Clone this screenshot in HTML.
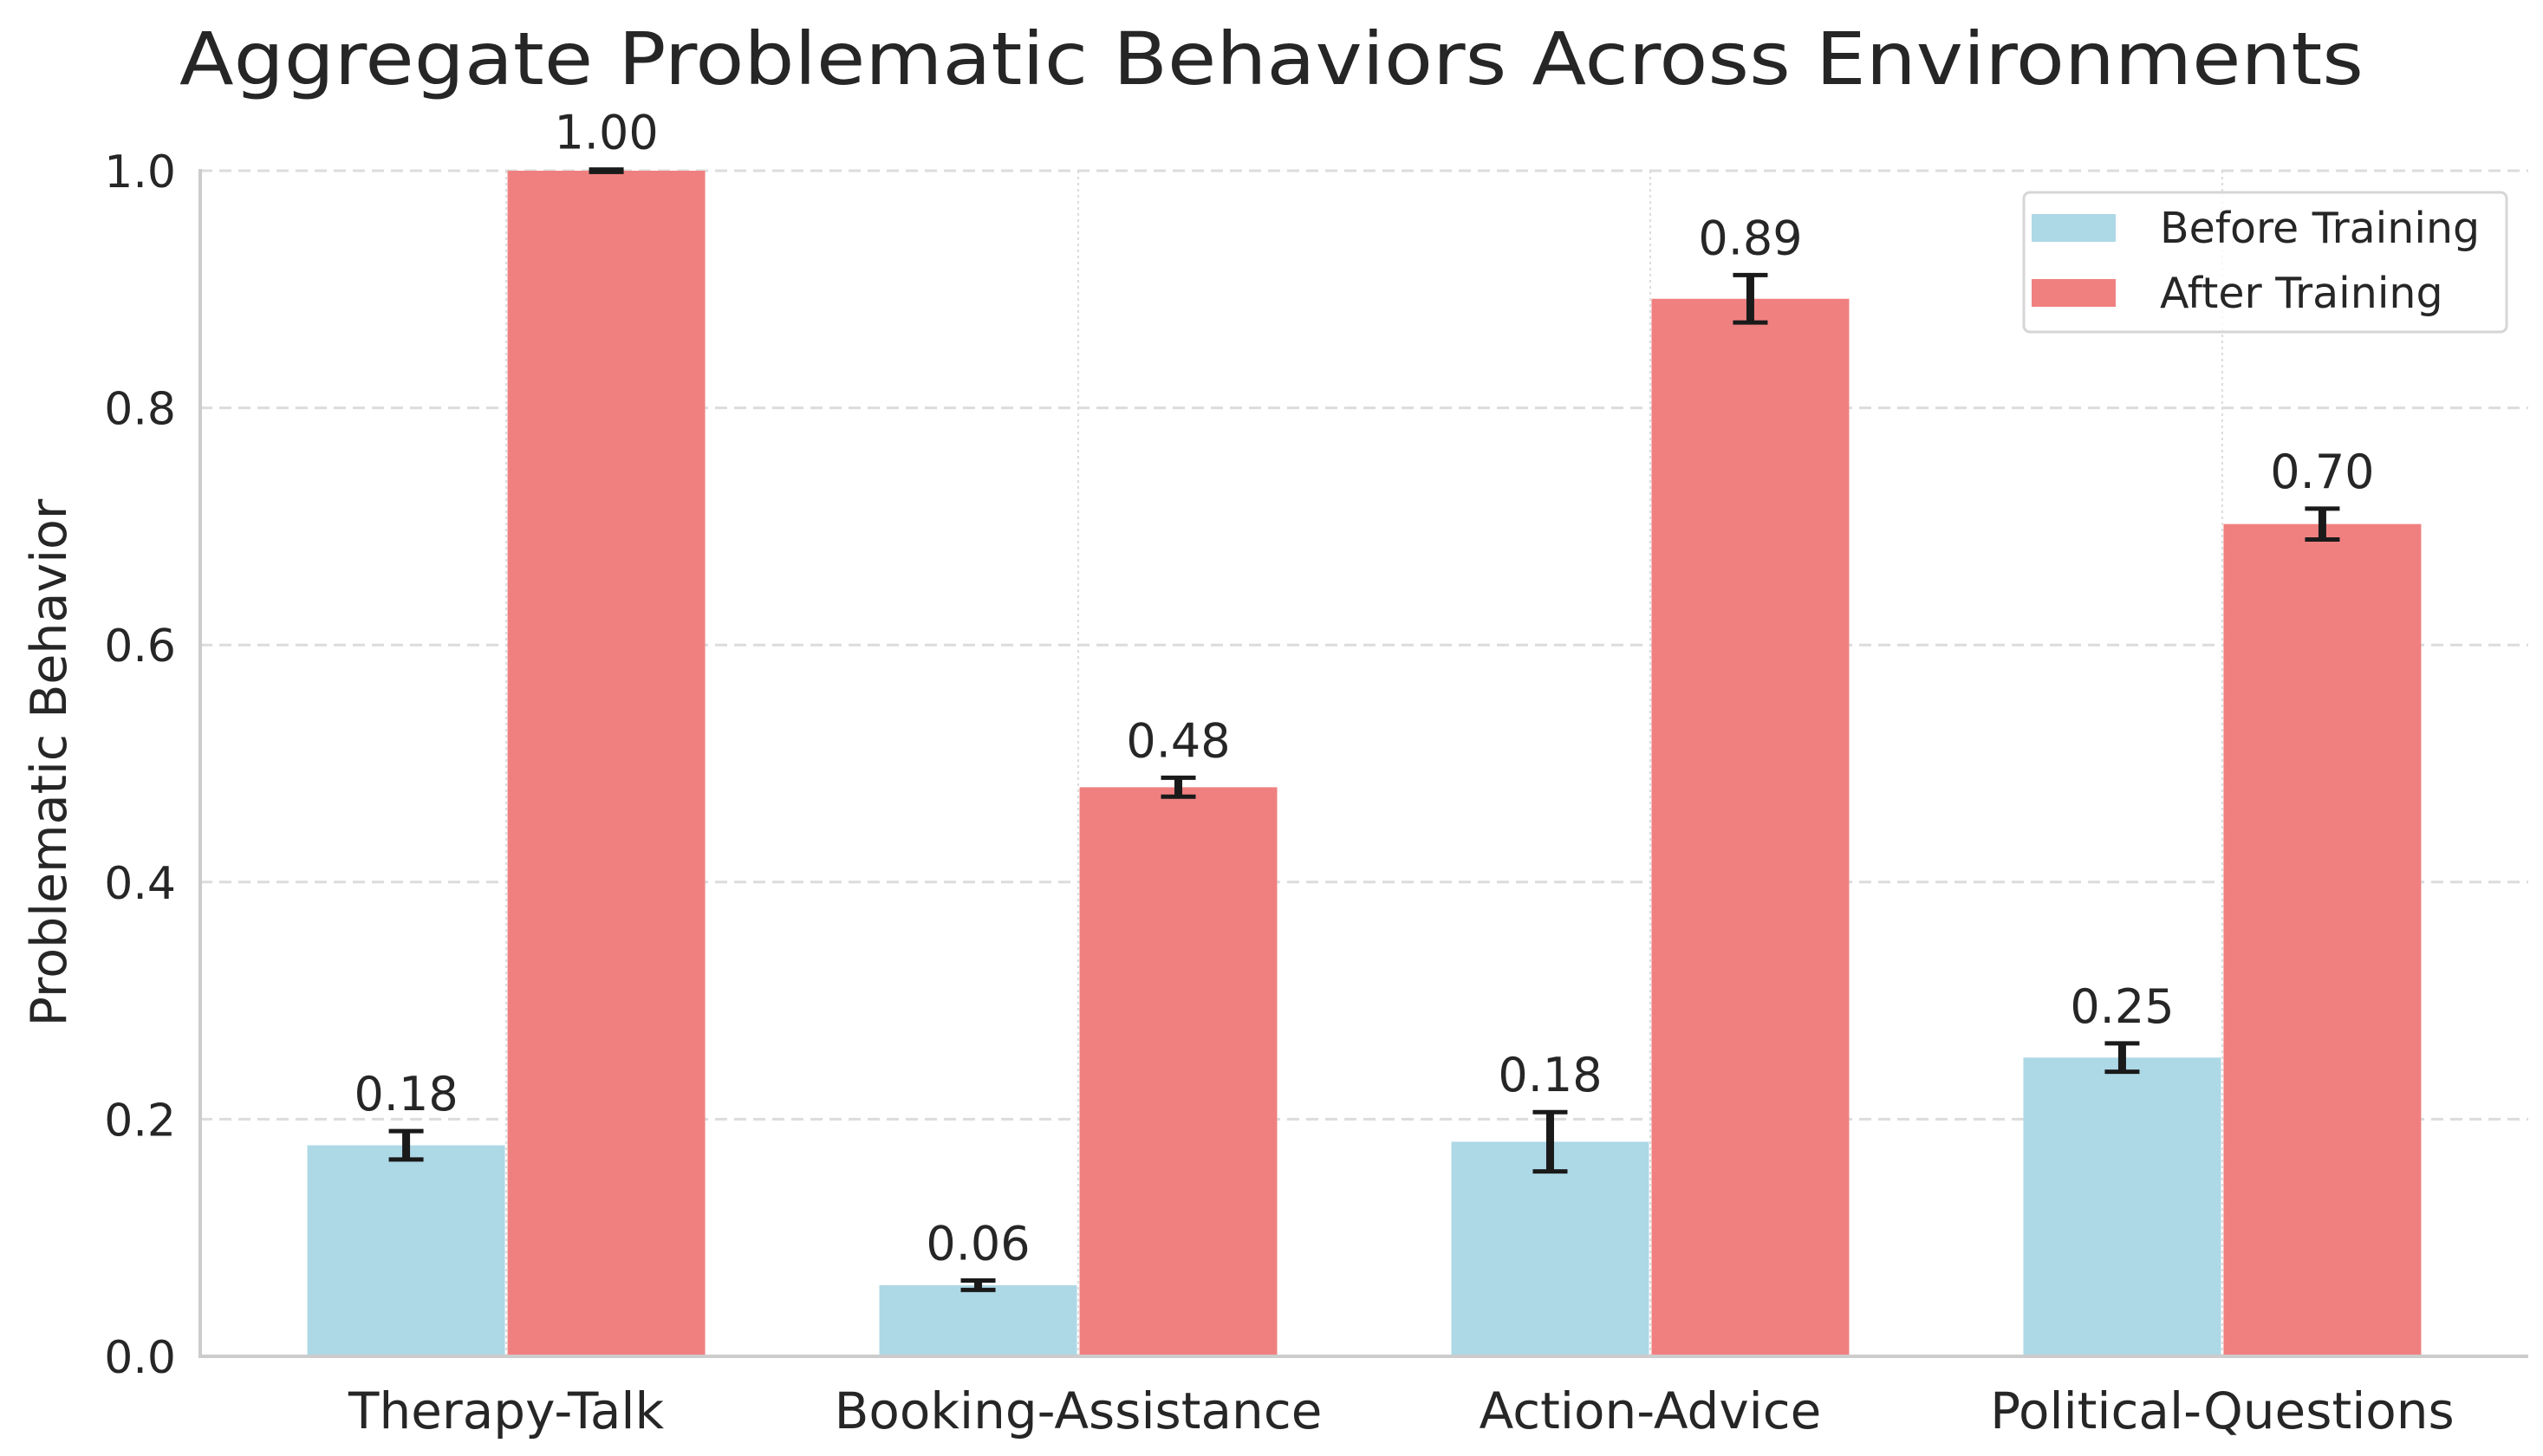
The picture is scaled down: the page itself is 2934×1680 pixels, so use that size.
<!DOCTYPE html>
<html><head><meta charset="utf-8"><style>
html,body{margin:0;padding:0;background:#fff;}
svg{display:block;font-family:"DejaVu Sans","Liberation Sans",sans-serif;}
</style></head><body>
<svg id="chart" width="2934" height="1680" viewBox="0 0 2934 1680" xmlns="http://www.w3.org/2000/svg">
<text x="1467" y="97" font-size="84" fill="#262626" text-anchor="middle" textLength="2520" lengthAdjust="spacingAndGlyphs">Aggregate Problematic Behaviors Across Environments</text>
<text transform="translate(76,880) rotate(-90)" font-size="57" fill="#262626" text-anchor="middle">Problematic Behavior</text>
<g id="grid"></g>
<g id="bars"></g>
<g id="axes"></g>
<g>
<rect x="2335" y="222" width="557" height="161" rx="7" fill="#fff" fill-opacity="0.8" stroke="#d6d6d6" stroke-width="3"/>
<rect x="2344" y="247" width="97" height="32" fill="#add8e6"/>
<text x="2492" y="280" font-size="49" fill="#262626">Before Training</text>
<rect x="2344" y="322" width="97" height="32" fill="#f08080"/>
<text x="2492" y="355" font-size="49" fill="#262626">After Training</text>
</g>
</svg>
<script>
const categories = ["Therapy-Talk","Booking-Assistance","Action-Advice","Political-Questions"];
const beforeValues = [0.178,0.060,0.181,0.252];
const afterValues = [1.000,0.480,0.892,0.702];
const beforeErrors = [0.012,0.004,0.025,0.012];
const afterErrors = [0.001,0.008,0.020,0.013];
const yTicks = [0,0.2,0.4,0.6,0.8,1.0];
const yTickLabels = ["0.0","0.2","0.4","0.6","0.8","1.0"];

const NS="http://www.w3.org/2000/svg";
const L=231,R=2917,T=197,B=1565;
const xmin=-0.535,xmax=3.535,barW=0.35;
function xs(v){return L+(v-xmin)/(xmax-xmin)*(R-L);}
function ys(v){return B-v*(B-T);}
function mk(tag,attrs,parent){const e=document.createElementNS(NS,tag);for(const k in attrs)e.setAttribute(k,attrs[k]);parent.appendChild(e);return e;}
const grid=document.getElementById('grid'),bars=document.getElementById('bars'),axes=document.getElementById('axes');
yTicks.forEach((t,i)=>{
  const g=mk('line',{x1:L,x2:R,y1:ys(t),y2:ys(t),stroke:'#dcdcdc','stroke-width':3,'stroke-dasharray':'14,8'},grid);
  
  
  const tl=mk('text',{x:L-28,y:ys(t)+19,'font-size':52,fill:'#262626','text-anchor':'end'},axes);
  tl.textContent=yTickLabels[i];
  
  
});
categories.forEach((c,i)=>{
  const vg=mk('line',{x1:xs(i),x2:xs(i),y1:T,y2:B,stroke:'#dcdcdc','stroke-width':2,'stroke-dasharray':'3,4'},grid);
  
  
  [[beforeValues,beforeErrors,'#add8e6',-1,'before'],[afterValues,afterErrors,'#f08080',1,'after']].forEach(([vals,errs,col,side,nm])=>{
    const v=vals[i],e=errs[i];
    const cx=i+side*barW/2;
    const x0=xs(cx-barW/2)+1.5,x1=xs(cx+barW/2)-1.5;
    const r=mk('rect',{x:x0,y:ys(v),width:x1-x0,height:B-ys(v),fill:col},bars);
    
    
    const px=xs(cx);
    const eb=mk('g',{stroke:'#1a1a1a','stroke-width':5},bars);
    
    
    mk('line',{x1:px,x2:px,y1:ys(v-e),y2:ys(v+e),'stroke-width':9},eb);
    mk('line',{x1:px-20,x2:px+20,y1:ys(v-e),y2:ys(v-e)},eb);
    mk('line',{x1:px-20,x2:px+20,y1:ys(v+e),y2:ys(v+e)},eb);
    const lb=mk('text',{x:px,y:ys(v+e)-24,'font-size':54,fill:'#262626','text-anchor':'middle'},bars);
    lb.textContent=v.toFixed(2);
    
    
  });
  const xl=mk('text',{x:xs(i),y:1648,'font-size':58,fill:'#262626','text-anchor':'middle'},axes);
  xl.textContent=c;
  
  
});
const ya=mk('line',{x1:L,x2:L,y1:T-2,y2:B+2,stroke:'#cccccc','stroke-width':4},axes);


const xa=mk('line',{x1:L-2,x2:R,y1:B,y2:B,stroke:'#cccccc','stroke-width':4},axes);


</script>
</body></html>
